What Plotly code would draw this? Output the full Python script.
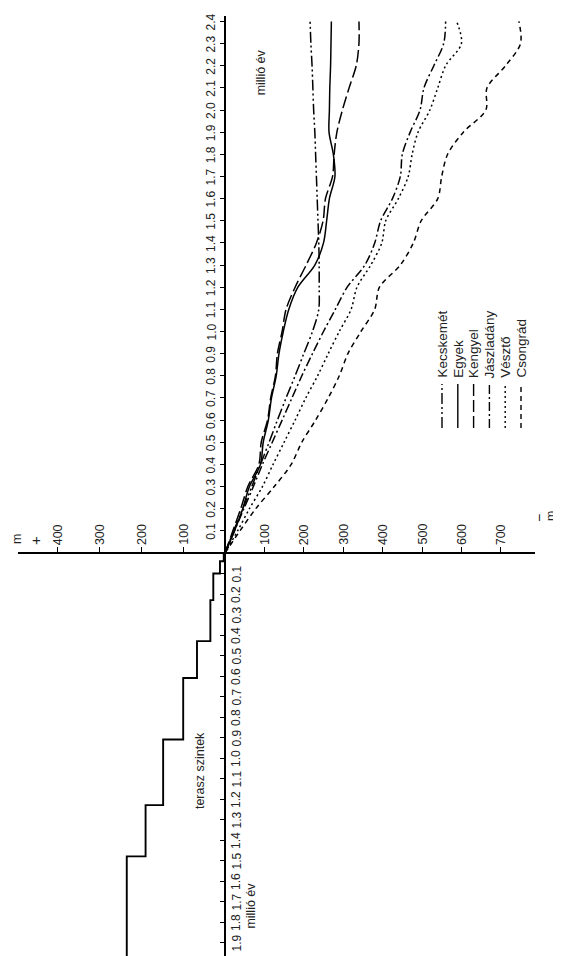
import plotly.graph_objects as go

# ---------------- data ----------------
ages = [0.0, 0.1, 0.2, 0.3, 0.4, 0.5, 0.6, 0.7, 0.8, 0.9, 1.0, 1.1, 1.2,
        1.3, 1.4, 1.5, 1.6, 1.7, 1.8, 1.9, 2.0, 2.1, 2.2, 2.3, 2.4]

kecskemet = [0, 22, 45, 68, 90, 112, 133, 155, 178, 200, 222, 238, 239,
             239, 238, 236, 234, 232, 230, 228, 225, 223, 221, 218, 216]
egyek = [0, 24, 45, 62, 90, 97, 110, 118, 130, 137, 148, 162, 185,
         228, 250, 258, 265, 279, 275, 264, 265, 266, 268, 269, 270]
kengyel = [0, 20, 40, 58, 86, 92, 108, 116, 128, 133, 145, 155, 178,
           206, 232, 249, 255, 273, 277, 284, 298, 315, 333, 340, 340]
jaszladany = [0, 24, 48, 72, 95, 120, 145, 170, 195, 222, 250, 280, 310,
              355, 380, 395, 425, 445, 450, 470, 495, 505, 530, 555, 560]
veszto = [0, 32, 62, 95, 122, 150, 178, 205, 235, 262, 290, 320, 335,
          370, 398, 408, 440, 465, 475, 490, 520, 540, 560, 600, 588]
csongrad = [0, 38, 78, 125, 168, 195, 230, 262, 290, 312, 345, 380, 392,
            445, 478, 498, 540, 550, 565, 605, 662, 665, 712, 750, 746]

series_names = ["Kecskemét", "Egyek", "Kengyel", "Jászladány", "Vésztő", "Csongrád"]

# terrace levels (age bounds in million years, height in m)
terrace_age_bounds = [0.0, 0.04, 0.10, 0.23, 0.43, 0.61, 0.91, 1.23, 1.48, 1.97]
terrace_heights = [3, 12, 28, 35, 67, 100, 148, 190, 235]

depth_ticks_plus = [100, 200, 300, 400]
depth_ticks_minus = [100, 200, 300, 400, 500, 600, 700]
time_ticks_pos = [0.1, 0.2, 0.3, 0.4, 0.5, 0.6, 0.7, 0.8, 0.9, 1.0, 1.1, 1.2,
                  1.3, 1.4, 1.5, 1.6, 1.7, 1.8, 1.9, 2.0, 2.1, 2.2, 2.3, 2.4]
time_ticks_neg = [0.1, 0.2, 0.3, 0.4, 0.5, 0.6, 0.7, 0.8, 0.9, 1.0,
                  1.1, 1.2, 1.3, 1.4, 1.5, 1.6, 1.7, 1.8, 1.9]

# ---------------- geometry ----------------
W, H = 561, 956
OX, OY = 217, 545            # origin in pixels
PXM_PLUS, PXM_MINUS = 0.418, 0.394    # px per metre
PXT_POS, PXT_NEG = 221.5, 205.0       # px per million years
XL, XR = 10, 527
YT, YB = 8, 956

x_minus_range = [0, (XR - OX) / PXM_MINUS]
x_plus_range = [-(OX - XL) / PXM_PLUS, 0]
y_pos_range = [0, (OY - YT) / PXT_POS]
y_neg_range = [-(YB - OY) / PXT_NEG, 0]

FONT = "Liberation Sans"
TXT = "#222"
styles = {
    "Kecskemét": "11px,3px,2px,3px,2px,3px",
    "Egyek": "solid",
    "Kengyel": "12px,4px",
    "Jászladány": "9px,3px,2px,3px",
    "Vésztő": "2px,3px",
    "Csongrád": "5px,4px",
}
data_by_name = dict(zip(series_names, [kecskemet, egyek, kengyel, jaszladany, veszto, csongrad]))

fig = go.Figure()

for name in series_names:
    fig.add_trace(go.Scatter(
        x=data_by_name[name], y=ages, mode="lines", name=name, xaxis="x", yaxis="y",
        line=dict(color="black", width=1.5, dash=styles[name], shape="spline", smoothing=0.9),
        showlegend=False, hoverinfo="skip", cliponaxis=False))

# terrace step line
tx, ty = [], []
for i, h in enumerate(terrace_heights):
    tx += [-h, -h]
    ty += [-terrace_age_bounds[i], -terrace_age_bounds[i + 1]]
fig.add_trace(go.Scatter(x=[0] + tx, y=[0] + ty, mode="lines", xaxis="x2", yaxis="y2",
                         line=dict(color="black", width=1.9), showlegend=False, hoverinfo="skip"))

# custom rotated legend
LEG_PX_X0, LEG_PX_DX = 434, 15.8
LEG_PX_Y = (420, 376)
for i, name in enumerate(series_names):
    lx = (LEG_PX_X0 + i * LEG_PX_DX - OX) / PXM_MINUS
    ly = [(OY - LEG_PX_Y[0]) / PXT_POS, (OY - LEG_PX_Y[1]) / PXT_POS]
    fig.add_trace(go.Scatter(x=[lx, lx], y=ly, mode="lines", xaxis="x", yaxis="y",
                             line=dict(color="black", width=1.4, dash=styles[name]),
                             showlegend=False, hoverinfo="skip"))
    fig.add_annotation(x=lx, y=ly[1], xref="x", yref="y", text=name, textangle=-90,
                       showarrow=False, xanchor="center", yanchor="bottom", yshift=4,
                       font=dict(family=FONT, size=13.5, color=TXT))

# tick labels
for v in depth_ticks_plus:
    fig.add_annotation(x=-v, y=0, xref="x2", yref="y", text=str(v), textangle=-90,
                       showarrow=False, yanchor="bottom", yshift=6,
                       font=dict(family=FONT, size=12.5, color=TXT))
for v in depth_ticks_minus:
    fig.add_annotation(x=v, y=0, xref="x", yref="y", text=str(v), textangle=-90,
                       showarrow=False, yanchor="bottom", yshift=6,
                       font=dict(family=FONT, size=12.5, color=TXT))
for v in time_ticks_pos:
    fig.add_annotation(x=0, y=v, xref="x", yref="y", text=f"{v:.1f}", textangle=-90,
                       showarrow=False, xanchor="right", xshift=-5,
                       font=dict(family=FONT, size=12, color=TXT))
for v in time_ticks_neg:
    fig.add_annotation(x=0, y=-v, xref="x", yref="y2", text=f"{v:.1f}", textangle=-90,
                       showarrow=False, xanchor="left", xshift=2,
                       font=dict(family=FONT, size=12, color=TXT))

# axis unit labels (paper-positioned)
def paper_label(px, py, text, size):
    fig.add_annotation(x=px / W, y=1 - py / H, xref="paper", yref="paper", text=text,
                       textangle=-90, showarrow=False, xanchor="center", yanchor="middle",
                       font=dict(family=FONT, size=size, color=TXT))

paper_label(9, 531, "m", 12.5)
paper_label(27, 533, "+", 15)
paper_label(531, 510, "−", 14)
paper_label(543, 508, "m", 12.5)

fig.add_annotation(x=0, y=2.17, xref="x", yref="y", text="millió év", textangle=-90,
                   showarrow=False, xanchor="left", xshift=27,
                   font=dict(family=FONT, size=12.5, color=TXT))
fig.add_annotation(x=0, y=-1.72, xref="x", yref="y2", text="millió év", textangle=-90,
                   showarrow=False, xanchor="left", xshift=17,
                   font=dict(family=FONT, size=12.5, color=TXT))
fig.add_annotation(x=-58, y=-1.06, xref="x2", yref="y2", text="terasz szintek", textangle=-90,
                   showarrow=False, font=dict(family=FONT, size=12.5, color=TXT))

axis_common = dict(showline=True, linecolor="black", linewidth=1.5, ticks="outside",
                   tickcolor="black", tickwidth=1.2, showticklabels=False,
                   showgrid=False, zeroline=False, fixedrange=True)
xpos = 1 - OY / H
ypos = OX / W
fig.update_layout(
    width=W, height=H, margin=dict(l=0, r=0, t=0, b=0),
    paper_bgcolor="white", plot_bgcolor="white",
    xaxis=dict(range=x_minus_range, domain=[OX / W, XR / W], anchor="free", position=xpos,
               side="top", ticklen=5, tickvals=depth_ticks_minus, **axis_common),
    xaxis2=dict(range=x_plus_range, domain=[XL / W, OX / W], anchor="free", position=xpos,
                side="top", ticklen=5, tickvals=[-v for v in depth_ticks_plus], **axis_common),
    yaxis=dict(range=y_pos_range, domain=[1 - OY / H, 1 - YT / H], anchor="free", position=ypos,
               side="left", ticklen=4, tickvals=time_ticks_pos, **axis_common),
    yaxis2=dict(range=y_neg_range, domain=[0, 1 - OY / H], anchor="free", position=ypos,
                side="left", ticklen=4, tickvals=[-v for v in time_ticks_neg], **axis_common),
)

fig.write_html("out.html")
